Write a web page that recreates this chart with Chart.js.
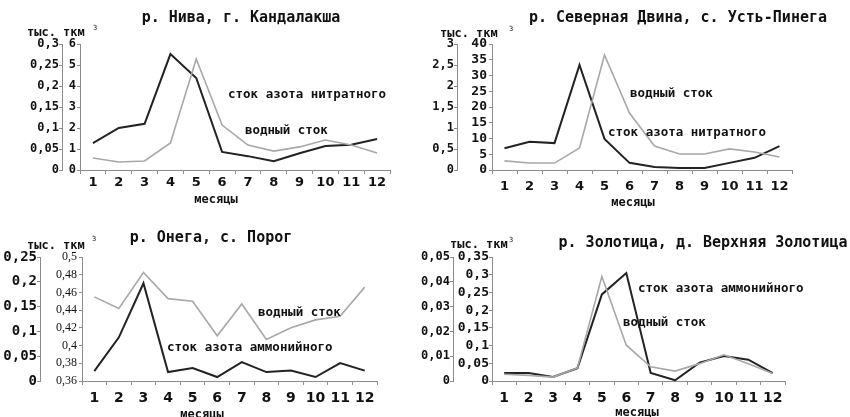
<!DOCTYPE html>
<html><head><meta charset="utf-8">
<script src="https://cdn.jsdelivr.net/npm/chart.js@4.4.0/dist/chart.umd.min.js"></script>
<style>
html,body{margin:0;padding:0;background:#fff;}
body{width:850px;height:417px;position:relative;overflow:hidden;font-family:'DejaVu Sans Mono',monospace;color:#111;}
canvas{position:absolute;}
.t{position:absolute;white-space:nowrap;font-weight:bold;line-height:1;}
.c{transform:translate(-50%,-50%);}
.l{transform:translateY(-50%);}
.ttl{font-size:15px;}
.ann{font-size:12.5px;}
.unit{font-size:12px;}
.sup{font-size:7px;font-weight:normal;}
</style></head><body>
<canvas id="c1" width="425" height="210" style="left:0;top:0"></canvas>
<canvas id="c2" width="425" height="210" style="left:425px;top:0"></canvas>
<canvas id="c3" width="420" height="207" style="left:0;top:210px"></canvas>
<canvas id="c4" width="430" height="207" style="left:420px;top:210px"></canvas>

<div class="t c ttl" style="left:241px;top:17px">р. Нива, г. Кандалакша</div>
<div class="t c ttl" style="left:678px;top:17px">р. Северная Двина, с. Усть-Пинега</div>
<div class="t c ttl" style="left:211px;top:237px">р. Онега, с. Порог</div>
<div class="t c ttl" style="left:703px;top:242px">р. Золотица, д. Верхняя Золотица</div>

<div class="t l unit" style="left:27px;top:32px">тыс. ткм</div>
<div class="t c sup" style="left:95px;top:28px">3</div>
<div class="t l unit" style="left:440px;top:33px">тыс. ткм</div>
<div class="t c sup" style="left:511px;top:29px">3</div>
<div class="t l unit" style="left:27px;top:245px">тыс. ткм</div>
<div class="t c sup" style="left:94px;top:239px">3</div>
<div class="t l unit" style="left:450px;top:244px">тыс. ткм</div>
<div class="t c sup" style="left:511px;top:240px">3</div>

<div class="t c unit" style="left:216px;top:199px">месяцы</div>
<div class="t c unit" style="left:633px;top:202px">месяцы</div>
<div class="t c unit" style="left:202px;top:414px">месяцы</div>
<div class="t c unit" style="left:637px;top:412px">месяцы</div>

<div class="t l ann" style="left:228px;top:94px">сток азота нитратного</div>
<div class="t l ann" style="left:245px;top:130px">водный сток</div>
<div class="t l ann" style="left:630px;top:93px">водный сток</div>
<div class="t l ann" style="left:608px;top:132px">сток азота нитратного</div>
<div class="t l ann" style="left:258px;top:312px">водный сток</div>
<div class="t l ann" style="left:167px;top:347px">сток азота аммонийного</div>
<div class="t l ann" style="left:638px;top:288px">сток азота аммонийного</div>
<div class="t l ann" style="left:623px;top:322px">водный сток</div>

<script>
// ---- data ----
const months = ['1','2','3','4','5','6','7','8','9','10','11','12'];

// р. Нива, г. Кандалакша
const nivaWater   = [0.57, 0.38, 0.43, 1.29, 5.29, 2.14, 1.19, 0.90, 1.10, 1.43, 1.19, 0.81];
const nivaNitrate = [0.064, 0.100, 0.110, 0.276, 0.219, 0.043, 0.033, 0.021, 0.040, 0.057, 0.060, 0.074];

// р. Северная Двина, с. Усть-Пинега
const dvinaWater   = [2.9, 2.2, 2.2, 7.0, 36.5, 18.1, 7.6, 5.1, 5.1, 6.7, 5.7, 4.1];
const dvinaNitrate = [0.52, 0.67, 0.64, 2.50, 0.74, 0.17, 0.07, 0.05, 0.05, 0.17, 0.29, 0.57];

// р. Онега, с. Порог
const onegaWater    = [0.455, 0.442, 0.4825, 0.453, 0.450, 0.411, 0.447, 0.407, 0.420, 0.429, 0.433, 0.466];
const onegaAmmonium = [0.020, 0.088, 0.197, 0.018, 0.026, 0.008, 0.038, 0.018, 0.021, 0.008, 0.036, 0.021];

// р. Золотица, д. Верхняя Золотица
const zolotWater    = [0.019, 0.016, 0.011, 0.037, 0.295, 0.101, 0.040, 0.028, 0.049, 0.074, 0.049, 0.021];
const zolotAmmonium = [0.0032, 0.0032, 0.0016, 0.0052, 0.0349, 0.0435, 0.0032, 0.0003, 0.0074, 0.0101, 0.0086, 0.0032];

// axis ranges [min, max, step]
const nivaOuter  = [0, 0.3, 0.05],  nivaInner  = [0, 6, 1];
const dvinaOuter = [0, 3, 0.5],     dvinaInner = [0, 40, 5];
const onegaOuter = [0, 0.25, 0.05], onegaInner = [0.36, 0.5, 0.02];
const zolotOuter = [0, 0.05, 0.01], zolotInner = [0, 0.35, 0.05];

// ---- drawing ----
const DARK = '#222', LIGHT = '#a8a8a8', AX = '#8c8c8c', TXT = '#111';
const fmt = v => String(+Number(v).toFixed(4)).replace('.', ',');

function yAxis(range, weight, width, font, tickLen, pad) {
  return {
    position: 'left', weight: weight, min: range[0], max: range[1],
    ticks: { stepSize: range[2], callback: fmt, font: font, color: TXT, padding: pad, autoSkip: false },
    grid: { drawOnChartArea: false, tickLength: tickLen, color: AX },
    border: { display: true, color: AX, width: 1 },
    afterFit: s => { s.width = width; }
  };
}

function panel(id, p) {
  new Chart(document.getElementById(id), {
    type: 'line',
    data: {
      labels: months,
      datasets: [
        { data: p.light, yAxisID: 'yi', borderColor: LIGHT, borderWidth: 1.6, pointRadius: 0, tension: 0, fill: false },
        { data: p.dark,  yAxisID: 'yo', borderColor: DARK,  borderWidth: 2,   pointRadius: 0, tension: 0, fill: false }
      ]
    },
    options: {
      responsive: false, animation: false, devicePixelRatio: 1,
      layout: { padding: p.pad },
      plugins: { legend: { display: false }, tooltip: { enabled: false }, title: { display: false } },
      scales: {
        x: {
          type: 'category', offset: true,
          grid: { offset: true, drawOnChartArea: false, tickLength: 4, color: AX },
          border: { display: true, color: AX, width: 1 },
          ticks: { font: p.xFont, color: TXT, padding: p.xPad, maxRotation: 0, autoSkip: false },
          afterFit: s => { s.height = p.xH; }
        },
        yo: yAxis(p.outer, 1, p.ow, p.oFont, 3, p.oPad),
        yi: yAxis(p.inner, 0, p.iw, p.iFont, 3, p.iPad)
      }
    }
  });
}

const xs13 = { family: 'DejaVu Sans', size: 13, weight: 'bold' };
const xs14 = { family: 'DejaVu Sans', size: 14, weight: 'bold' };
const mono12 = { family: 'DejaVu Sans Mono', size: 12, weight: 'bold' };
const mono13 = { family: 'DejaVu Sans Mono', size: 13, weight: 'bold' };
const mono14 = { family: 'DejaVu Sans Mono', size: 14, weight: 'bold' };
const serif12 = { family: 'Liberation Serif', size: 12 };

panel('c1', { light: nivaWater, dark: nivaNitrate, inner: nivaInner, outer: nivaOuter,
  pad: { left: 10, right: 35, top: 44, bottom: 0 }, ow: 52, iw: 18, xH: 40,
  oFont: mono12, iFont: mono12, xFont: xs13, oPad: 0, iPad: 1, xPad: 1 });

panel('c2', { light: dvinaWater, dark: dvinaNitrate, inner: dvinaInner, outer: dvinaOuter,
  pad: { left: 2, right: 58, top: 44, bottom: 0 }, ow: 30, iw: 35, xH: 40,
  oFont: mono12, iFont: mono13, xFont: xs13, oPad: 0, iPad: 2, xPad: 5 });

panel('c3', { light: onegaWater, dark: onegaAmmonium, inner: onegaInner, outer: onegaOuter,
  pad: { left: 0, right: 43, top: 47, bottom: 0 }, ow: 40, iw: 42, xH: 36,
  oFont: mono14, iFont: serif12, xFont: xs14, oPad: 0, iPad: 2, xPad: 5 });

panel('c4', { light: zolotWater, dark: zolotAmmonium, inner: zolotInner, outer: zolotOuter,
  pad: { left: 0, right: 65, top: 47, bottom: 0 }, ow: 33, iw: 39, xH: 36,
  oFont: mono12, iFont: mono13, xFont: xs14, oPad: 0, iPad: 0, xPad: 5 });
</script>
</body></html>
